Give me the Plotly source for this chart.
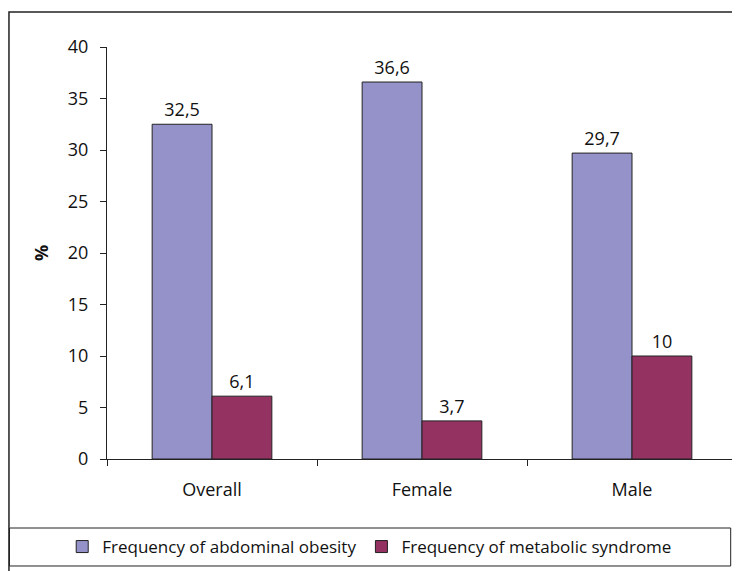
import plotly.graph_objects as go

categories = ["Overall", "Female", "Male"]
abdominal_obesity = [32.5, 36.6, 29.7]
metabolic_syndrome = [6.1, 3.7, 10]
series_names = ["Frequency of abdominal obesity", "Frequency of metabolic syndrome"]
y_ticks = [0, 5, 10, 15, 20, 25, 30, 35, 40]

FONT = "Open Sans"
INK = "#111111"

def lbl(v):
    return str(v).replace(".", ",") if v != int(v) else str(int(v))

fig = go.Figure()
fig.add_trace(go.Bar(
    x=categories, y=abdominal_obesity, name=series_names[0],
    marker=dict(color="#9492C8", line=dict(color="#222222", width=1)),
    text=[lbl(v) for v in abdominal_obesity], textposition="outside",
    textfont=dict(size=18, color=INK, family=FONT), cliponaxis=False,
))
fig.add_trace(go.Bar(
    x=categories, y=metabolic_syndrome, name=series_names[1],
    marker=dict(color="#943262", line=dict(color="#222222", width=1)),
    text=[lbl(v) for v in metabolic_syndrome], textposition="outside",
    textfont=dict(size=18, color=INK, family=FONT), cliponaxis=False,
))

fig.update_layout(
    width=740, height=571,
    margin=dict(l=99, r=11, t=39, b=120),
    paper_bgcolor="white", plot_bgcolor="white",
    barmode="group", bargap=0.43, bargroupgap=0,
    font=dict(family=FONT, size=18, color=INK),
    showlegend=True,
    legend=dict(orientation="h", x=0.417, xanchor="center", y=-0.2136, yanchor="middle",
                font=dict(size=17, family=FONT, color=INK), bgcolor="rgba(0,0,0,0)",
                tracegroupgap=0, itemwidth=30),
    shapes=[
        dict(type="rect", xref="paper", yref="paper", x0=-0.1556, x1=1.05, y0=-0.35, y1=1.085,
             line=dict(color="#222222", width=1.5), fillcolor="rgba(0,0,0,0)", layer="below"),
        dict(type="rect", xref="paper", yref="paper", x0=-0.1548, x1=0.990, y0=-0.2597, y1=-0.1675,
             line=dict(color="#222222", width=1), fillcolor="rgba(0,0,0,0)"),
    ],
)
fig.update_yaxes(
    range=[0, 40], tickvals=y_ticks, showgrid=False, zeroline=False,
    showline=True, linecolor="#222222", linewidth=1,
    ticks="outside", ticklen=6, tickcolor="#222222", tickfont=dict(size=18),
    ticklabelstandoff=8,
    title=dict(text="<b>%</b>", font=dict(size=18), standoff=14),
)
fig.update_xaxes(
    showline=True, linecolor="#222222", linewidth=1,
    ticks="outside", ticklen=6, tickcolor="#222222", tickson="boundaries",
    tickfont=dict(size=18), showgrid=False, ticklabelstandoff=14,
)

fig.write_html("out.html")
